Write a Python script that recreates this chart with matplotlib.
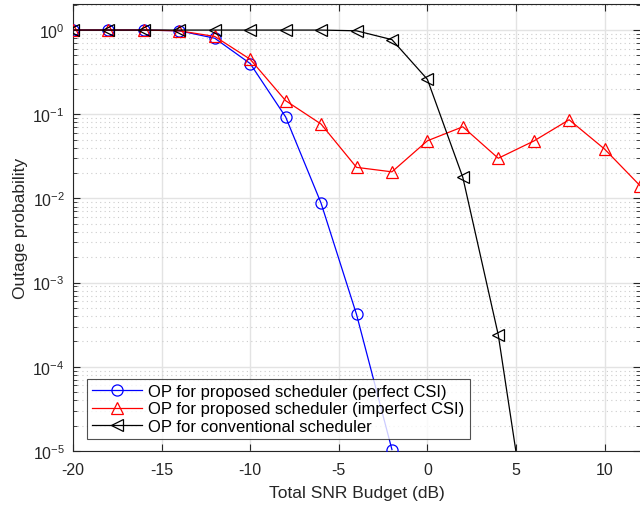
import matplotlib
matplotlib.use("Agg")
import matplotlib.pyplot as plt
import numpy as np
from matplotlib.ticker import LogLocator, NullFormatter, FixedLocator

plt.rcParams['font.family'] = ['Liberation Sans', 'DejaVu Sans']
plt.rcParams['mathtext.default'] = 'regular'
plt.rcParams['axes.unicode_minus'] = False

x_perfect = [-20, -18, -16, -14, -12, -10, -8, -6, -4, -2]
op_perfect = [1.0, 1.0, 1.0, 0.98, 0.80, 0.40, 0.093, 0.0088, 4.2e-4, 1.04e-5]

x_imperfect = [-20, -18, -16, -14, -12, -10, -8, -6, -4, -2, 0, 2, 4, 6, 8, 10, 12]
op_imperfect = [1.0, 1.0, 1.0, 0.98, 0.84, 0.45, 0.145, 0.0765, 0.0234, 0.0207,
                0.0484, 0.071, 0.030, 0.048, 0.086, 0.0386, 0.0142]

x_conv = [-20, -18, -16, -14, -12, -10, -8, -6, -4, -2, 0, 2, 4, 6]
op_conv = [1.0, 1.0, 1.0, 1.0, 1.0, 1.0, 1.0, 1.0, 0.98, 0.77, 0.26, 0.0178, 2.4e-4, 4e-7]

labels = ['OP for proposed scheduler (perfect CSI)',
          'OP for proposed scheduler (imperfect CSI)',
          'OP for conventional scheduler']
xticks = [-20, -15, -10, -5, 0, 5, 10]

fig = plt.figure(figsize=(6.4, 5.1), dpi=100)
ax = fig.add_axes([73/640, 58/510, 567/640, 447/510])

ax.plot(x_perfect, op_perfect, color='blue', lw=0.9, marker='o', ms=8,
        mfc='none', mec='blue', mew=0.9, label=labels[0], zorder=3)
ax.plot(x_imperfect, op_imperfect, color='red', lw=0.9, marker='^', ms=9,
        mfc='none', mec='red', mew=0.9, label=labels[1], zorder=3)
ax.plot(x_conv, op_conv, color='black', lw=0.9, marker='<', ms=9,
        mfc='none', mec='black', mew=0.9, label=labels[2], zorder=3)

ax.set_yscale('log')
ax.set_xlim(-20, 12)
ax.set_ylim(1e-5, 2.04)
ax.xaxis.set_major_locator(FixedLocator(xticks))
ax.yaxis.set_major_locator(LogLocator(base=10, numticks=10))
ax.yaxis.set_minor_locator(LogLocator(base=10, subs=np.arange(2, 10), numticks=20))
ax.yaxis.set_minor_formatter(NullFormatter())

ax.grid(True, which='major', color='#e3e3e3', lw=1.0, ls='-', zorder=0)
ax.grid(True, which='minor', axis='y', color='#cccccc', lw=0.8, ls=(0, (1, 3)), zorder=0)
ax.set_axisbelow(True)

ax.tick_params(which='both', direction='in', top=True, right=True,
               labelsize=11.5, colors='#262626')
ax.tick_params(which='major', length=5, width=0.8)
ax.tick_params(which='minor', length=3, width=0.6)
ax.tick_params(axis='x', pad=8)
ax.tick_params(axis='y', pad=6)
for s in ['left', 'bottom', 'top']:
    ax.spines[s].set_color('#262626')
    ax.spines[s].set_linewidth(0.8)
ax.spines['right'].set_visible(False)

ax.set_xlabel('Total SNR Budget (dB)', fontsize=12.5, color='#262626', labelpad=6)
ax.set_ylabel('Outage probability', fontsize=12.5, color='#262626', labelpad=3)

leg = ax.legend(loc='lower left', bbox_to_anchor=(0.024, 0.027), fontsize=12,
                frameon=True, fancybox=False, edgecolor='#262626',
                borderpad=0.3, labelspacing=0.15, handlelength=3.0,
                handletextpad=0.4, borderaxespad=0)
leg.get_frame().set_linewidth(0.8)

fig.savefig('out.png', dpi=100)
